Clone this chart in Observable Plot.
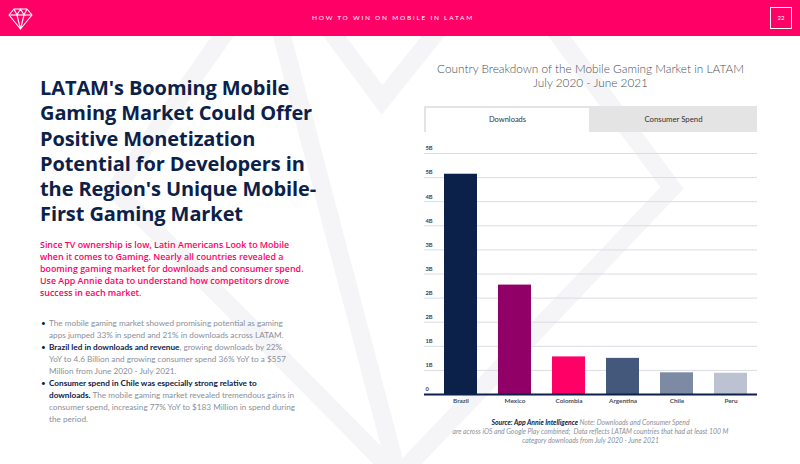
<!DOCTYPE html>
<html>
<head>
<meta charset="utf-8">
<script src="https://cdn.jsdelivr.net/npm/d3@7"></script>
<script src="https://cdn.jsdelivr.net/npm/@observablehq/plot@0.6"></script>
<style>
  html, body { margin: 0; padding: 0; background: #fff; }
  #page { position: relative; width: 800px; height: 464px; overflow: hidden; font-family: Lato, "Open Sans", sans-serif; }
  #header { position: absolute; left: 0; top: 0; width: 800px; height: 36px; background: #ff0066; }
  #htitle { position: absolute; left: 0; width: 786px; top: 14px; text-align: center; color: #fff; font-size: 6.5px; letter-spacing: 1.75px; }
  #pnum { position: absolute; left: 770px; top: 7px; width: 20px; height: 20px; border: 1px solid #fff; color: #fff; font-size: 6px; text-align: center; line-height: 20px; }
  #bg { position: absolute; left: 0; top: 36px; }
  #title { position: absolute; left: 40px; top: 75px; color: #0c2149; font-family: "Open Sans", sans-serif; font-weight: 700; font-size: 20px; line-height: 25.3px; letter-spacing: -0.1px; }
  #lead { position: absolute; left: 40px; top: 239px; color: #ff0066; font-family: "Open Sans", sans-serif; font-weight: 600; font-size: 8.9px; line-height: 12px; }
  #bullets { position: absolute; left: 40px; top: 317px; color: #8a8f9a; font-size: 8.2px; line-height: 12px; }
  #bullets .b { position: relative; padding-left: 9px; }
  #bullets .b::before { content: "•"; position: absolute; left: 1px; color: #0c2149; }
  #bullets strong { color: #0c2149; }
  #ctitle { position: absolute; left: 420px; width: 341px; top: 62px; text-align: center; color: #4a4f5a; font-size: 11.8px; line-height: 14px; font-weight: 300; }
  #tabs { position: absolute; left: 424px; top: 106px; width: 333px; height: 26px; background: #e4e4e4; }
  #tab1 { position: absolute; left: 2px; top: 2px; width: 163px; height: 24px; background: #fff; color: #333; font-size: 7.5px; text-align: center; line-height: 24px; }
  #tab2 { position: absolute; left: 166px; top: 0; width: 167px; height: 26px; color: #333; font-size: 7.8px; text-align: center; line-height: 26px; }
  #chart { position: absolute; left: 400px; top: 135px; }
  #note { position: absolute; left: 410px; width: 361px; top: 418px; text-align: center; color: #8a8f9a; font-size: 6.8px; line-height: 9px; font-style: italic; }
  #note strong { color: #0c2149; }
</style>
</head>
<body>
<div id="page">
  <svg id="bg" width="800" height="428">
    <g fill="none" stroke="#f5f5f7" stroke-width="18" stroke-linejoin="miter">
      <polygon points="115,154 255,-46 525,-46 672,152 398,440"></polygon>
      <polyline points="270,-46 398,440"></polyline>
      <polyline points="300,-46 382,64 470,-46"></polyline>
    </g>
  </svg>
  <div id="header">
    <svg width="44" height="36" style="position:absolute;left:0;top:0">
      <g fill="none" stroke="#fff" stroke-width="1.1" stroke-linejoin="round">
        <polygon points="14,9 27,9 32,15 20.5,29 9,15"></polygon>
        <polyline points="9,15 32,15"></polyline>
        <polyline points="14,9 17,15 20.5,9 24,15 27,9"></polyline>
        <polyline points="17,15 20.5,29 24,15"></polyline>
      </g>
    </svg>
    <div id="htitle">HOW TO WIN ON MOBILE IN LATAM</div>
    <div id="pnum">22</div>
  </div>

  <div id="title">LATAM's Booming Mobile<br>Gaming Market Could Offer<br>Positive Monetization<br>Potential for Developers in<br>the Region's Unique Mobile-<br>First Gaming Market</div>

  <div id="lead">Since TV ownership is low, Latin Americans Look to Mobile<br>when it comes to Gaming. Nearly all countries revealed a<br>booming gaming market for downloads and consumer spend.<br>Use App Annie data to understand how competitors drove<br>success in each market.</div>

  <div id="bullets">
    <div class="b">The mobile gaming market showed promising potential as gaming<br>apps jumped 33% in spend and 21% in downloads across LATAM.</div>
    <div class="b"><strong>Brazil led in downloads and revenue</strong>, growing downloads by 22%<br>YoY to 4.6 Billion and growing consumer spend 36% YoY to a $557<br>Million from June 2020 - July 2021.</div>
    <div class="b"><strong>Consumer spend in Chile was especially strong relative to<br>downloads.</strong> The mobile gaming market revealed tremendous gains in<br>consumer spend, increasing 77% YoY to $183 Million in spend during<br>the period.</div>
  </div>

  <div id="ctitle">Country Breakdown of the Mobile Gaming Market in LATAM<br>July 2020 - June 2021</div>

  <div id="tabs">
    <div id="tab1">Downloads</div>
    <div id="tab2">Consumer Spend</div>
  </div>

  <div id="chart"></div>

  <div id="note"><strong>Source: App Annie Intelligence</strong> Note: Downloads and Consumer Spend<br>are across iOS and Google Play combined;&nbsp; Data reflects LATAM countries that had at least 100 M<br>category downloads from July 2020 - June 2021</div>
</div>

<script>
const countries = ["Brazil", "Mexico", "Colombia", "Argentina", "Chile", "Peru"];
const downloadsB = [4.57, 2.27, 0.78, 0.75, 0.45, 0.44];
const barColors = ["#0c2149", "#910066", "#ff0066", "#43587a", "#7d8aa3", "#bcc2d1"];
const yTicks = [0, 0.5, 1, 1.5, 2, 2.5, 3, 3.5, 4, 4.5, 5];
const yTickFormat = d => (Math.round(d) === 0 ? "0" : Math.round(d) + "B");

const data = countries.map((c, i) => ({country: c, value: downloadsB[i]}));

const chart = Plot.plot({
  width: 360,
  height: 279,
  marginLeft: 24,
  marginRight: 3,
  marginTop: 18,
  marginBottom: 20,
  style: {fontFamily: "Lato, sans-serif", background: "transparent", overflow: "visible"},
  x: {domain: countries, insetLeft: 9, paddingInner: 0.39, paddingOuter: 0.195, label: null},
  y: {domain: [0, 5], label: null},
  color: {domain: countries, range: barColors},
  marks: [
    Plot.gridY(yTicks, {stroke: "#d9dce2", strokeOpacity: 1, strokeWidth: 1}),
    Plot.barY(data, {x: "country", y: "value", fill: "country"}),
    Plot.ruleY([0], {stroke: "#0c2149", strokeWidth: 2}),
    Plot.axisY({ticks: yTicks, tickFormat: yTickFormat, tickSize: 0, tickPadding: -1, textAnchor: "start", dy: -5, fontSize: 5.8, fontWeight: 700, color: "#3a3f4a", label: null}),
    Plot.axisX({tickSize: 0, tickPadding: 4, fontSize: 6.4, fontWeight: 700, color: "#4a4f5a", label: null})
  ]
});
document.getElementById("chart").appendChild(chart);
</script>
</body>
</html>
